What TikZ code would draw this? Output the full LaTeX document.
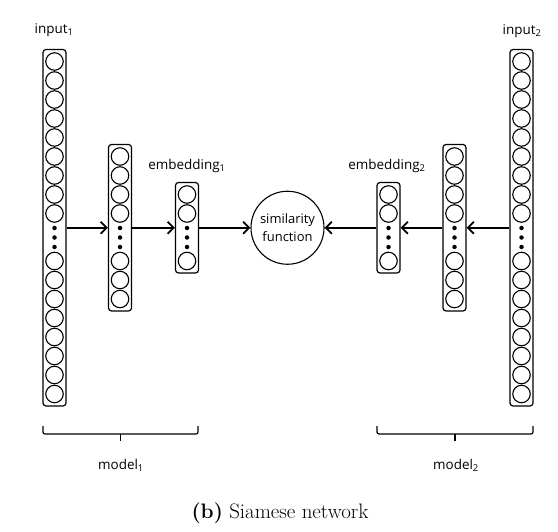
\documentclass[tikz,border=0pt]{standalone}
\usepackage{fontspec}
\setsansfont{Open Sans}
\usetikzlibrary{arrows.meta}

\begin{document}
\begin{tikzpicture}
  [x=1bp,y=-1bp,every node/.style={font=\sffamily\fontsize{13.5}{18}\selectfont}]
  \tikzstyle{layer} = [draw,line width=1.2bp,rounded corners=3bp,minimum width=23bp,inner sep=0pt]
  \tikzstyle{unit} = [draw,circle,line width=1.1bp,minimum size=17.5bp,inner sep=0pt]
  \tikzstyle{dot} = [fill,circle,minimum size=4.5bp,inner sep=0pt]
  \tikzstyle{link} = [line width=1.8bp,-{Straight Barb[length=6bp,width=12bp]}]
  \tikzstyle{brace} = [line width=1.2bp,rounded corners=2bp]
  \useasboundingbox (0,0) rectangle (558,532);

  % layers: name / x / circles above / circles below the dots
  \foreach \name/\x/\up/\down in {in1/54.5/9/8, hid1/120/4/3, emb1/187/2/1,
                                  emb2/388.5/2/1, hid2/454.5/4/3, in2/521.5/9/8} {
    \pgfmathsetmacro\h{19*(\up+\down)+33.5}
    \node[layer,minimum height=\h bp] (\name) at (\x,227.75) {};
    \foreach \i in {1,...,\up}
      \node[unit] (\name-u\i) at (\x,{213.5-19*(\up-\i)}) {};
    \foreach \j in {1,...,\down}
      \node[unit] (\name-d\j) at (\x,{261+19*(\j-1)}) {};
    \foreach \y [count=\k] in {228,237.5,247}
      \node[dot] (\name-dot\k) at (\x,\y) {};
  }

  \node[draw,circle,line width=1.1bp,minimum size=73bp,inner sep=0pt,align=center,
        font=\sffamily\fontsize{13}{18}\selectfont] (sim) at (287.5,227.75) {similarity\\function};

  \foreach \source/\dest in {in1/hid1,hid1/emb1,emb1/sim,in2/hid2,hid2/emb2,emb2/sim}
    \draw[link] (\source) -- (\dest);

  % labels
  \node (input1) at (54,30) {input\textsubscript{1}};
  \node (input2) at (522,31) {input\textsubscript{2}};
  \node (embedding1) at (187,166) {embedding\textsubscript{1}};
  \node (embedding2) at (387,166) {embedding\textsubscript{2}};
  \node (model1) at (121,465) {model\textsubscript{1}};
  \node (model2) at (456,465) {model\textsubscript{2}};

  % braces under the two models
  \draw[brace] (43,426) -- (43,434) -- (198,434) -- (198,426);
  \draw[brace] (120.5,434) -- (120.5,441);
  \draw[brace] (377,426) -- (377,434) -- (533,434) -- (533,426);
  \draw[brace] (455,434) -- (455,441);

  \node (caption) at (280,513) {\rmfamily\fontsize{21}{25}\selectfont\textbf{(b)} Siamese network};
\end{tikzpicture}
\end{document}
